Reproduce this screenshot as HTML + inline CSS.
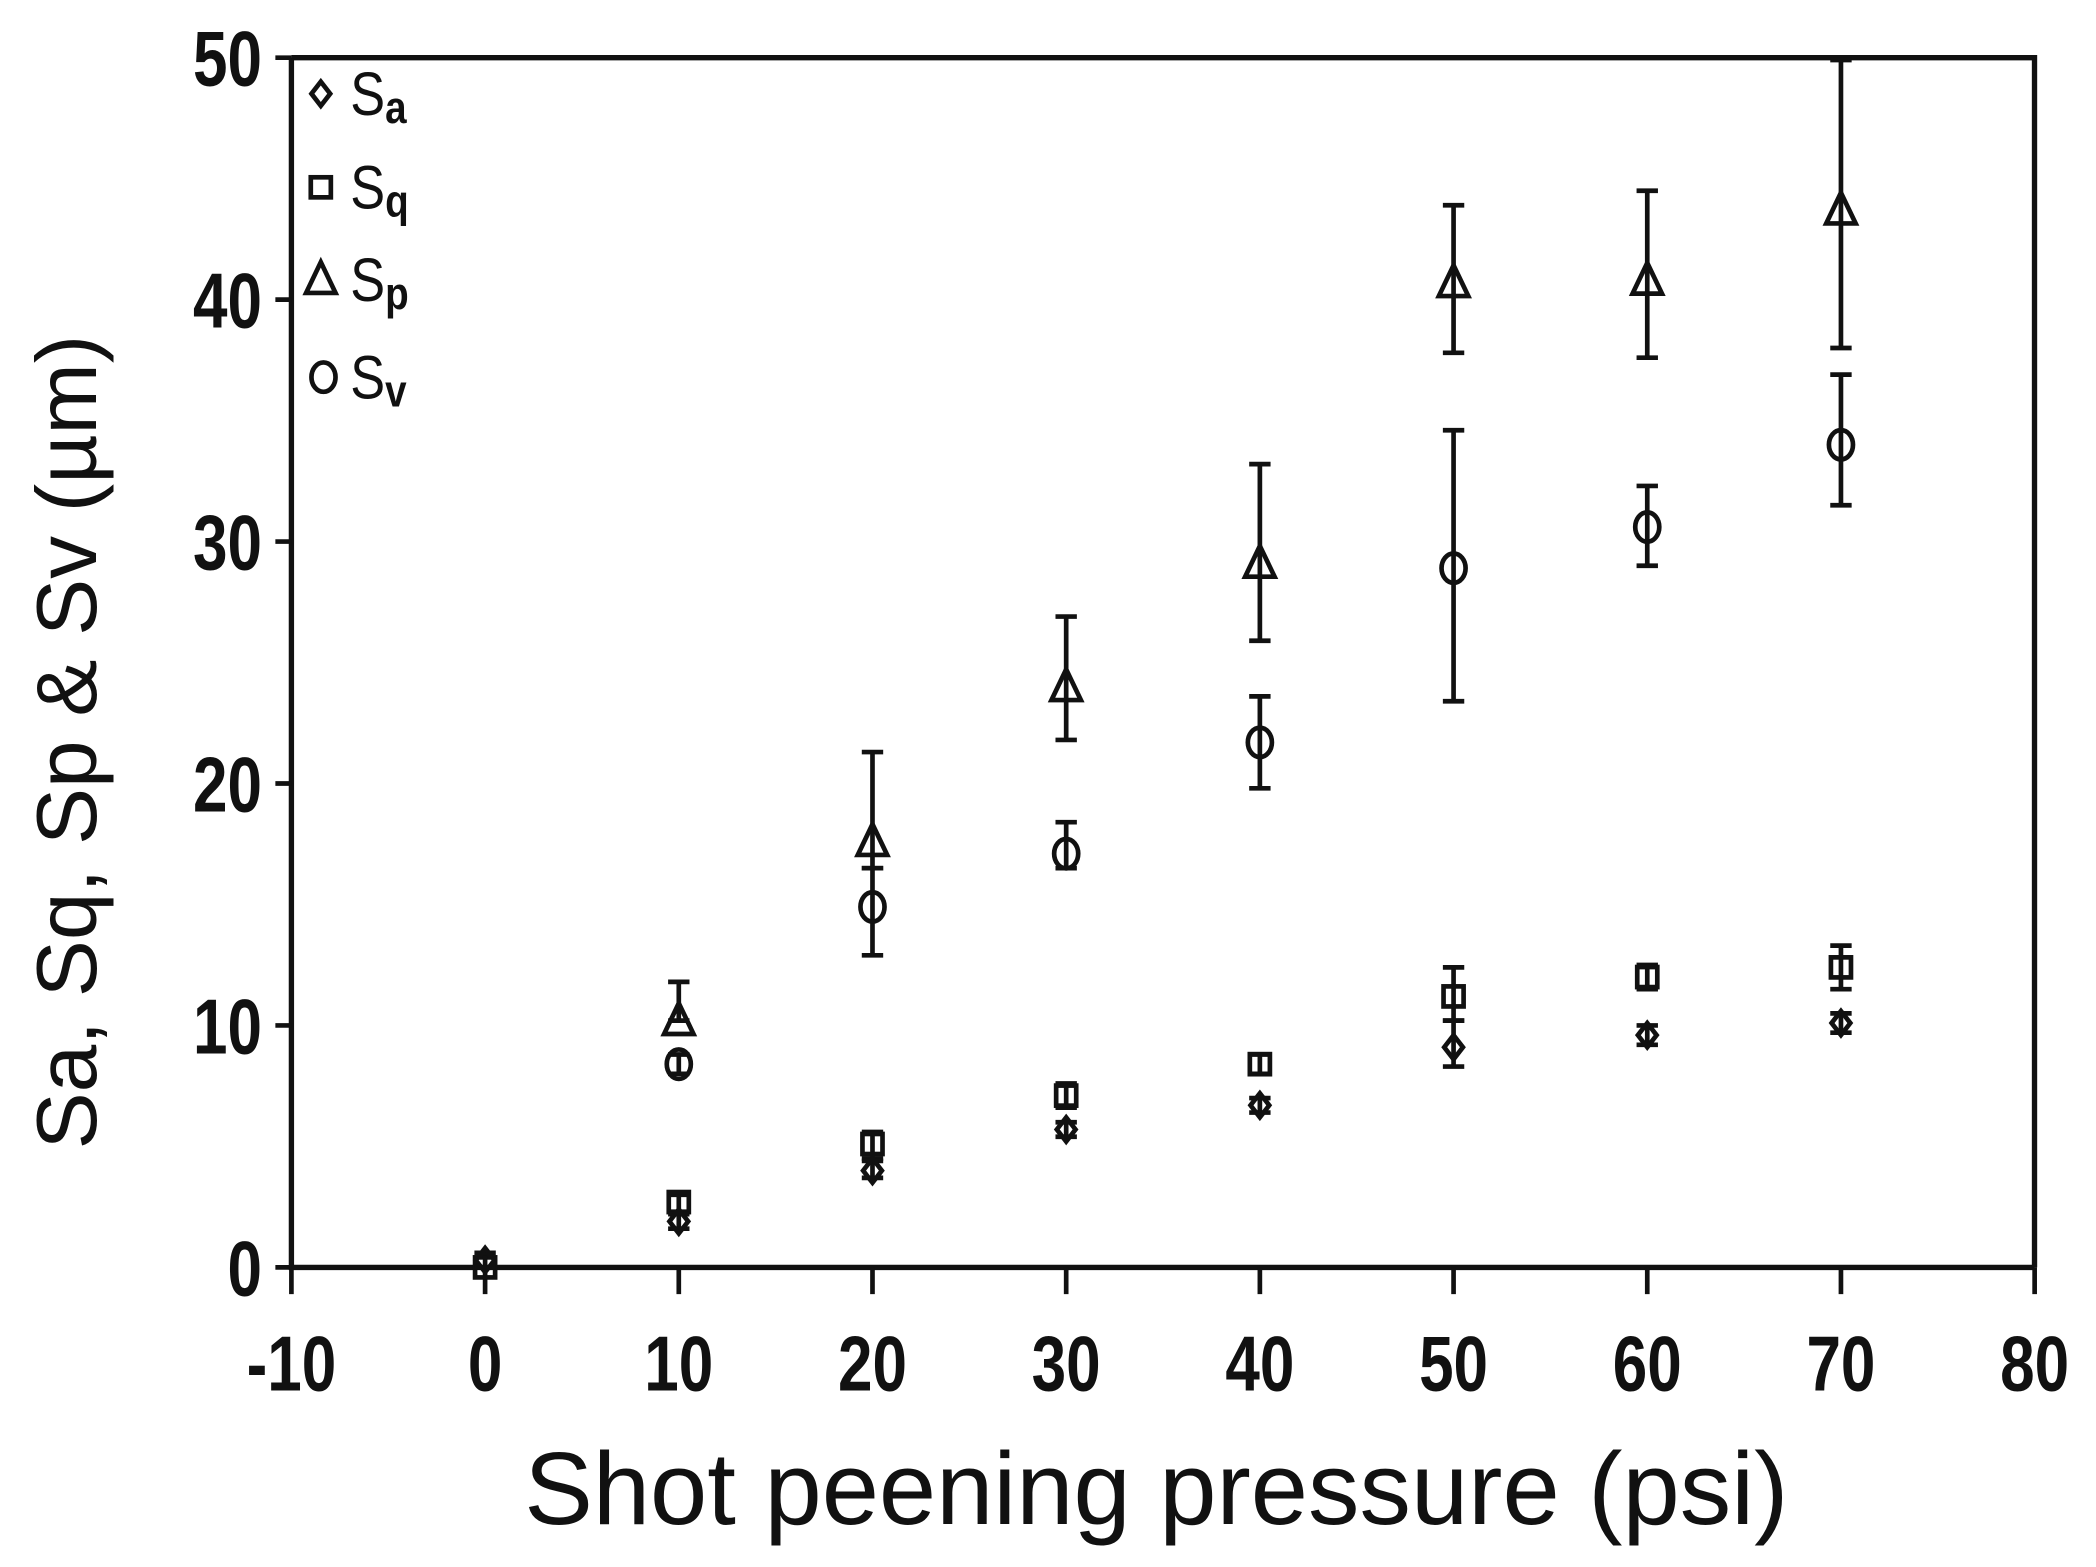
<!DOCTYPE html>
<html><head><meta charset="utf-8"><style>
html,body{margin:0;padding:0;background:#fff;}
svg{display:block;}
text{font-family:"Liberation Sans",sans-serif;fill:#111;}
</style></head><body>
<svg id="s" width="2096" height="1567" viewBox="0 0 1568 1172" xmlns="http://www.w3.org/2000/svg">
<rect width="1568" height="1172" fill="#fff"/>
<g id="g" stroke="#111" fill="none" stroke-width="3.5"></g>
<g id="t"></g>
</svg>
<script>
var NS="http://www.w3.org/2000/svg",g=document.getElementById('g'),t=document.getElementById('t');
function X(v){return 218+(v+10)*14.49;}
function Y(v){return 948-v*18.1;}
function el(p,tag,a,txt){var e=document.createElementNS(NS,tag);for(var k in a)e.setAttribute(k,a[k]);if(txt!==undefined)e.textContent=txt;p.appendChild(e);return e;}
el(g,'path',{d:'M218 43 H1522 V948 M218 43 V948 H1522',"stroke-width":4});
for(var v=-10;v<=80;v+=10){el(g,'line',{x1:X(v),x2:X(v),y1:948,y2:968});
 el(t,'text',{x:X(v),y:1040,"text-anchor":"middle","font-size":58,"font-weight":"bold",transform:"translate("+X(v)+",0) scale(0.8,1) translate("+(-X(v))+",0)"},String(v));}
for(var v=0;v<=50;v+=10){el(g,'line',{x1:206,x2:218,y1:Y(v),y2:Y(v)});
 el(t,'text',{x:196,y:Y(v)+21,"text-anchor":"end","font-size":58,"font-weight":"bold",transform:"translate(196,0) scale(0.8,1) translate(-196,0)"},String(v));}
el(t,'text',{x:865,y:1140,"text-anchor":"middle","font-size":77},'Shot peening pressure (psi)');
el(t,'text',{x:0,y:0,"text-anchor":"middle","font-size":64,transform:"translate(72,555) rotate(-90)"},'Sa, Sq, Sp & Sv  (µm)');
function err(x,lo,hi){el(g,'line',{x1:X(x),x2:X(x),y1:Y(lo),y2:Y(hi)});el(g,'line',{x1:X(x)-8,x2:X(x)+8,y1:Y(lo),y2:Y(lo)});el(g,'line',{x1:X(x)-8,x2:X(x)+8,y1:Y(hi),y2:Y(hi)});}
function tri(cx,cy){el(g,'path',{d:'M'+cx+' '+(cy-13)+' L'+(cx+11)+' '+(cy+10)+' L'+(cx-11)+' '+(cy+10)+' Z'});}
function cir(cx,cy){el(g,'ellipse',{cx:cx,cy:cy,rx:9,ry:11});}
function sq(cx,cy){el(g,'rect',{x:cx-7.5,y:cy-7.5,width:15,height:15});}
function dia(cx,cy){el(g,'path',{d:'M'+cx+' '+(cy-9)+' L'+(cx+7)+' '+cy+' L'+cx+' '+(cy+9)+' L'+(cx-7)+' '+cy+' Z'});}
var Sp=[[10,10.2,10.2,11.8],[20,17.6,16.5,21.3],[30,24,21.8,26.9],[40,29.1,25.9,33.2],[50,40.7,37.8,43.9],[60,40.8,37.6,44.5],[70,43.7,38,49.9]];
var Sv=[[10,8.4,8,8.8],[20,14.9,12.9,16.5],[30,17.1,16.5,18.4],[40,21.7,19.8,23.6],[50,28.9,23.4,34.6],[60,30.6,29,32.3],[70,34,31.5,36.9]];
var Sq=[[0,0,0,0],[10,2.7,2.3,3],[20,5.1,4.5,5.6],[30,7.1,6.6,7.6],[40,8.4,8,8.8],[50,11.2,10.2,12.4],[60,12,11.5,12.5],[70,12.4,11.5,13.3]];
var Sa=[[0,0.3,0,0.6],[10,1.9,1.6,2.2],[20,4,3.7,4.4],[30,5.7,5.4,6],[40,6.7,6.4,7],[50,9.1,8.3,10.2],[60,9.6,9.2,10],[70,10.1,9.7,10.5]];
Sp.forEach(function(d){err(d[0],d[2],d[3]);tri(X(d[0]),Y(d[1]));});
Sv.forEach(function(d){err(d[0],d[2],d[3]);cir(X(d[0]),Y(d[1]));});
Sq.forEach(function(d){err(d[0],d[2],d[3]);sq(X(d[0]),Y(d[1]));});
Sa.forEach(function(d){err(d[0],d[2],d[3]);dia(X(d[0]),Y(d[1]));});
dia(240,70);sq(240,140);tri(240,209);cir(242,282);
var L=[['a',86],['q',156],['p',225],['v',298]];
L.forEach(function(l){var e=el(t,'text',{x:262,y:l[1],"font-size":46,transform:"translate(262,0) scale(0.85,1) translate(-262,0)"});
 el(e,'tspan',{},'S');el(e,'tspan',{"font-size":34,"font-weight":"bold",dy:6},l[0]);});
</script>
</body></html>
